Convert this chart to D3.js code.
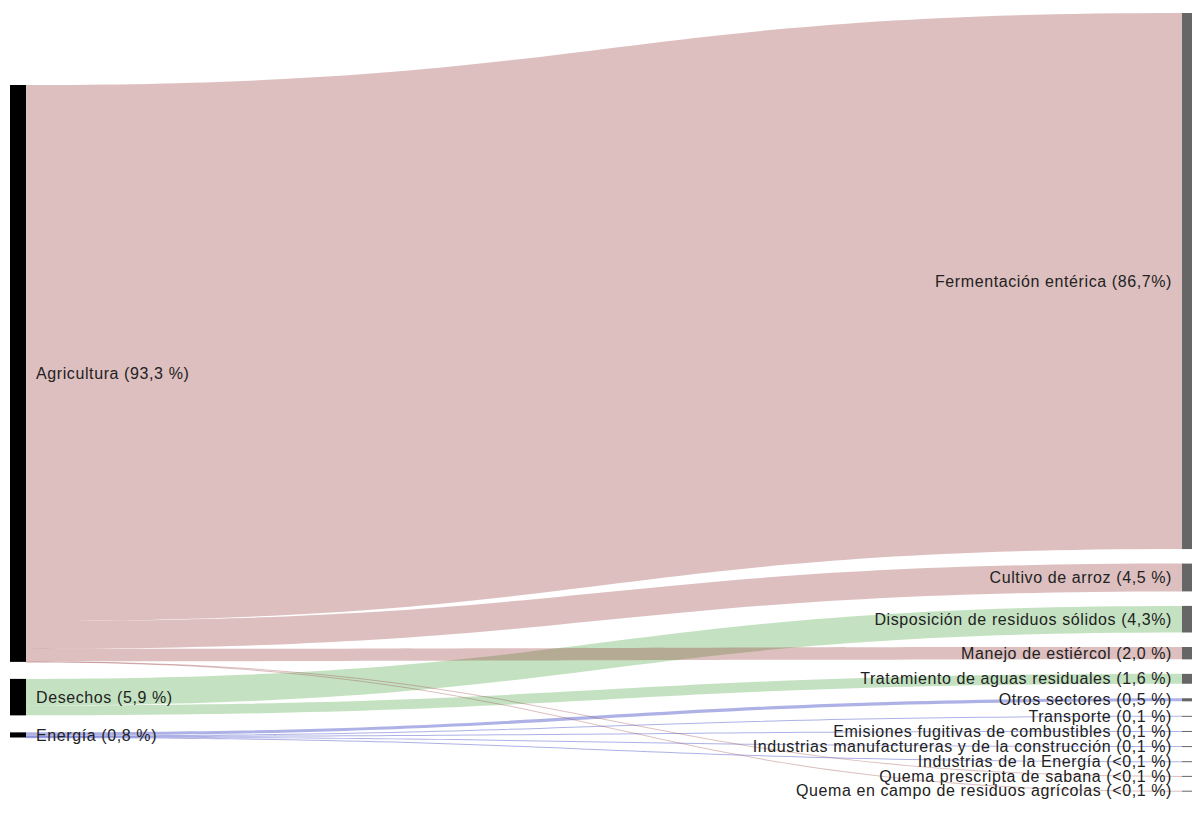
<!DOCTYPE html>
<html>
<head>
<meta charset="utf-8">
<script src="https://cdn.jsdelivr.net/npm/d3@7"></script>
<style>
  body { margin: 0; background: #fff; }
  text { font-family: "Liberation Sans", Arial, Helvetica, sans-serif; font-size: 16px; letter-spacing: 0.6px; fill: #222; }
</style>
</head>
<body>
<svg id="chart" width="1192" height="814"></svg>
<script>
// sectors (left column)
var sectorNames = ["Agricultura", "Desechos", "Energía"];
var sectorLabels = ["Agricultura (93,3 %)", "Desechos (5,9 %)", "Energía (0,8 %)"];

// categories (right column), each fed by one sector
var categoryNames = [
  "Fermentación entérica", "Cultivo de arroz", "Disposición de residuos sólidos",
  "Manejo de estiércol", "Tratamiento de aguas residuales", "Otros sectores",
  "Transporte", "Emisiones fugitivas de combustibles",
  "Industrias manufactureras y de la construcción", "Industrias de la Energía",
  "Quema prescripta de sabana", "Quema en campo de residuos agrícolas"
];
var categoryLabels = [
  "Fermentación entérica (86,7%)", "Cultivo de arroz (4,5 %)", "Disposición de residuos sólidos (4,3%)",
  "Manejo de estiércol (2,0 %)", "Tratamiento de aguas residuales (1,6 %)", "Otros sectores (0,5 %)",
  "Transporte (0,1 %)", "Emisiones fugitivas de combustibles (0,1 %)",
  "Industrias manufactureras y de la construcción (0,1 %)", "Industrias de la Energía (<0,1 %)",
  "Quema prescripta de sabana (<0,1 %)", "Quema en campo de residuos agrícolas (<0,1 %)"
];
var categorySector = [
  "Agricultura", "Agricultura", "Desechos", "Agricultura", "Desechos", "Energía",
  "Energía", "Energía", "Energía", "Energía", "Agricultura", "Agricultura"
];
var categoryValues = [86.7, 4.5, 4.3, 2.0, 1.6, 0.5, 0.1, 0.1, 0.1, 0.03, 0.05, 0.05];

var sectorColors = {
  "Agricultura": "rgba(150,55,55,0.32)",
  "Desechos": "rgba(60,160,50,0.3)",
  "Energía": "rgba(50,60,190,0.4)"
};

var svg = d3.select("#chart"),
    width = +svg.attr("width"),
    yTop = 13, yBottom = 791,
    padRight = 14.5, padLeft = 17, leftTop = 85,
    leftWidth = 16, rightWidth = 10;

var x = d3.scalePoint().domain(["sector", "category"]).range([10, width - rightWidth]);

// nodes
var sectors = sectorNames.map(function(name, i) {
  return { name: name, label: sectorLabels[i], value: 0, links: [] };
});
var sectorByName = {};
sectors.forEach(function(s) { sectorByName[s.name] = s; });

var categories = categoryNames.map(function(name, i) {
  return { name: name, label: categoryLabels[i], value: categoryValues[i], sector: categorySector[i] };
});

var links = categories.map(function(c) {
  var s = sectorByName[c.sector];
  s.value += c.value;
  var l = { source: s, target: c, value: c.value };
  s.links.push(l);
  return l;
});

// vertical scale, value -> pixels
var total = d3.sum(categoryValues);
var ky = (yBottom - yTop - (categories.length - 1) * padRight) / total;
var h = d3.scaleLinear().domain([0, total]).range([0, total * ky]);

var yPos = yTop;
categories.forEach(function(c) { c.y0 = yPos; c.y1 = yPos + h(c.value); yPos = c.y1 + padRight; });
yPos = leftTop;
sectors.forEach(function(s) { s.y0 = yPos; s.y1 = yPos + h(s.value); yPos = s.y1 + padLeft; });

// link offsets inside each node
sectors.forEach(function(s) {
  var off = s.y0;
  s.links.sort(function(a, b) { return a.target.y0 - b.target.y0; });
  s.links.forEach(function(l) { l.sy = off; off += h(l.value); });
});
links.forEach(function(l) { l.ty = l.target.y0; });

var x0 = x("sector") + leftWidth, x1 = x("category"), xm = (x0 + x1) / 2;

function band(l) {
  var w = Math.max(1, h(l.value));
  var p = d3.path();
  p.moveTo(x0, l.sy);
  p.bezierCurveTo(xm, l.sy, xm, l.ty, x1, l.ty);
  p.lineTo(x1, l.ty + w);
  p.bezierCurveTo(xm, l.ty + w, xm, l.sy + w, x0, l.sy + w);
  p.closePath();
  return p.toString();
}

svg.append("g").selectAll("path")
    .data(links)
  .enter().append("path")
    .attr("d", band)
    .attr("fill", function(d) { return sectorColors[d.source.name]; });

svg.append("g").selectAll("rect")
    .data(sectors)
  .enter().append("rect")
    .attr("x", x("sector"))
    .attr("y", function(d) { return d.y0; })
    .attr("width", leftWidth)
    .attr("height", function(d) { return Math.max(2, d.y1 - d.y0); })
    .attr("fill", "#000");

svg.append("g").selectAll("rect")
    .data(categories)
  .enter().append("rect")
    .attr("x", x("category"))
    .attr("y", function(d) { return d.y0; })
    .attr("width", rightWidth)
    .attr("height", function(d) { return Math.max(1, d.y1 - d.y0); })
    .attr("fill", "#666");

svg.append("g").selectAll("text")
    .data(sectors)
  .enter().append("text")
    .attr("x", x("sector") + leftWidth + 10)
    .attr("y", function(d) { return (d.y0 + d.y1) / 2; })
    .attr("dy", "0.35em")
    .text(function(d) { return d.label; });

svg.append("g").selectAll("text")
    .data(categories)
  .enter().append("text")
    .attr("x", x("category") - 10)
    .attr("y", function(d) { return (d.y0 + d.y1) / 2; })
    .attr("dy", "0.35em")
    .attr("text-anchor", "end")
    .text(function(d) { return d.label; });
</script>
</body>
</html>
